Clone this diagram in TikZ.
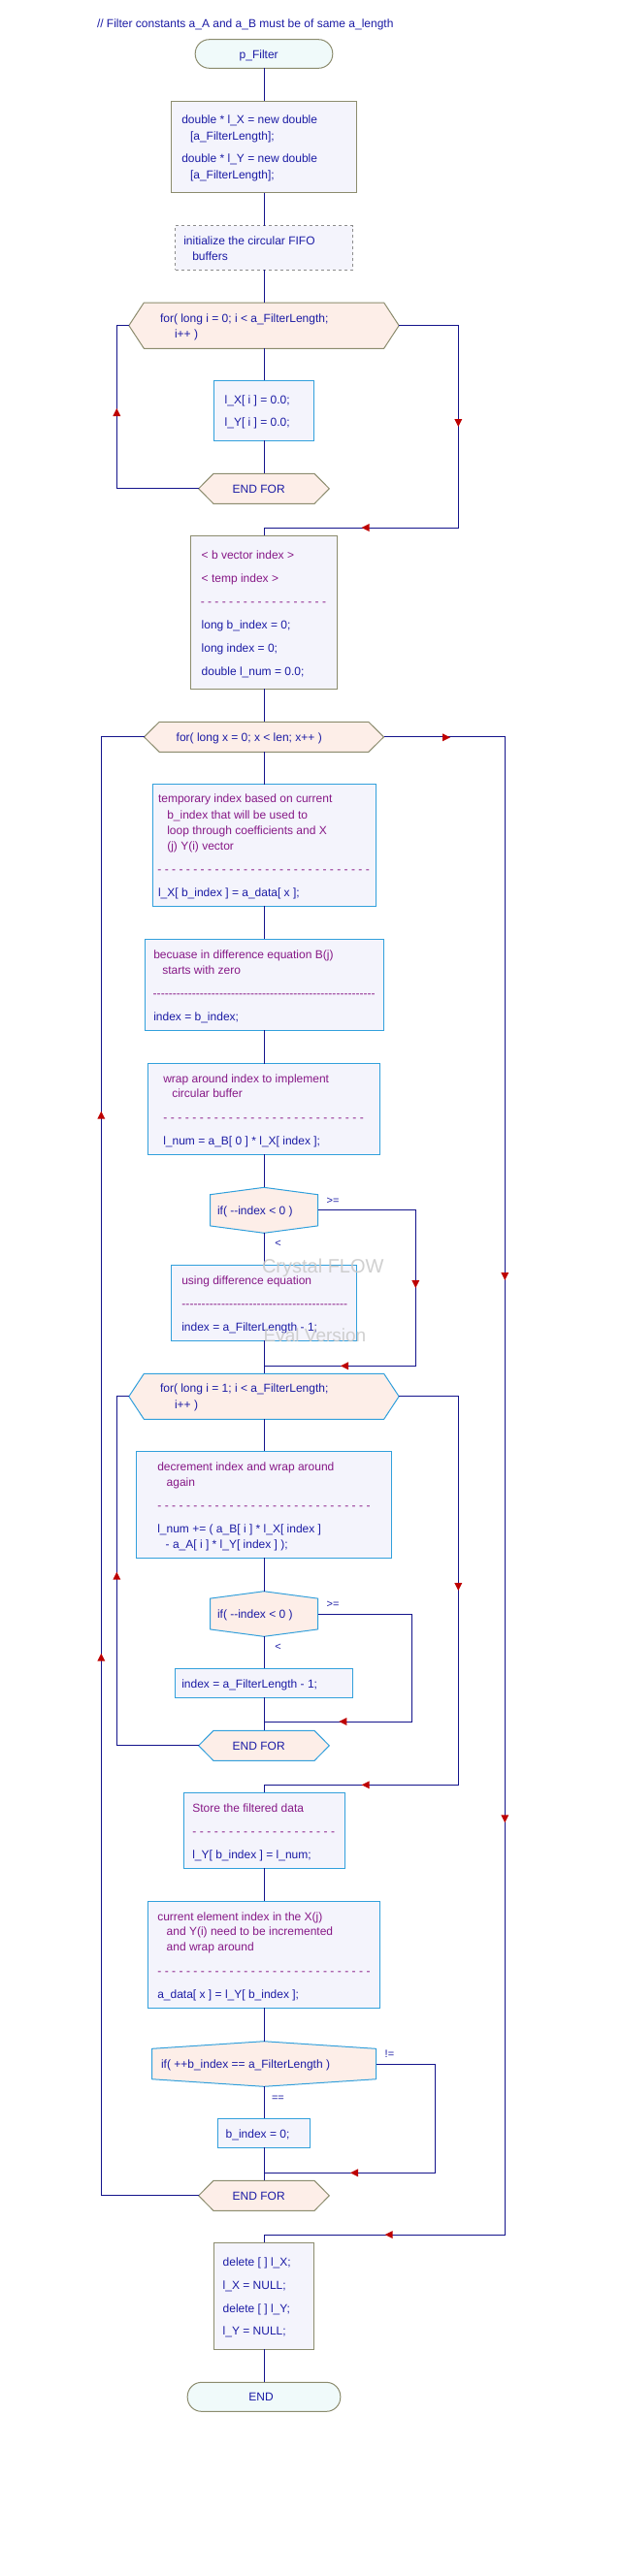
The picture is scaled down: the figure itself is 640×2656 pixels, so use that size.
\documentclass[tikz,border=0pt]{standalone}
\usepackage{fontspec}
\setmainfont{Liberation Sans}
\usetikzlibrary{calc}
\definecolor{lineblue}{RGB}{20,20,140}
\definecolor{codeblue}{RGB}{28,28,165}
\definecolor{cmtpurple}{RGB}{135,25,135}
\definecolor{boxfill}{RGB}{244,244,252}
\definecolor{hexfill}{RGB}{253,238,232}
\definecolor{termfill}{RGB}{240,250,250}
\definecolor{olivec}{RGB}{140,140,110}
\definecolor{lbluec}{RGB}{50,160,220}
\definecolor{dgrayc}{RGB}{140,140,140}
\definecolor{tipred}{RGB}{190,0,0}
\definecolor{wmgray}{RGB}{200,200,200}
\tikzset{
  conn/.style={draw=lineblue, line width=1pt},
  boxo/.style={draw=olivec, line width=1pt, fill=boxfill, inner sep=0pt, outer sep=0pt},
  boxb/.style={draw=lbluec, line width=1pt, fill=boxfill, inner sep=0pt, outer sep=0pt},
  boxd/.style={draw=dgrayc, dash pattern=on 3pt off 3pt, line width=1pt, fill=boxfill, inner sep=0pt, outer sep=0pt},
  term/.style={draw=olivec, line width=1pt, fill=termfill, rounded corners=14.5pt, inner sep=0pt, outer sep=0pt},
  ghost/.style={draw=none, fill=none, inner sep=0pt, outer sep=0pt},
  hexo/.style={draw=olivec, fill=hexfill, line width=1pt},
  hexb/.style={draw=lbluec, fill=hexfill, line width=1pt},
  tb/.style={anchor=west, inner sep=0pt, outer sep=0pt, text height=9pt, text depth=0pt, text=codeblue, font=\fontsize{12pt}{14pt}\selectfont},
  tbc/.style={tb, anchor=center},
  tpu/.style={tb, text=cmtpurple},
  lab/.style={anchor=west, inner sep=0pt, outer sep=0pt, text height=8pt, text depth=0pt, text=codeblue, font=\fontsize{11pt}{13pt}\selectfont},
  wmk/.style={anchor=west, inner sep=0pt, outer sep=0pt, text depth=0pt, text=wmgray, opacity=0.85}
}
\newcommand\mkbox[6]{%
  \pgfmathsetmacro\mbh{#6-#5}%
  \pgfmathsetmacro\mby{(#5+#6)/2}%
  \node[#1, minimum width=#4pt, minimum height=\mbh pt] (#2) at (#3,\mby) {};}
\newcommand\mkhex[7]{%
  \mkbox{ghost}{#2}{#3}{#4}{#5}{#6}%
  \filldraw[#1] (#2.west) -- ([xshift=#7pt]#2.north west) -- ([xshift=-#7pt]#2.north east) -- (#2.east) -- ([xshift=-#7pt]#2.south east) -- ([xshift=#7pt]#2.south west) -- cycle;}
\newcommand\mkif[7]{%
  \mkbox{ghost}{#2}{#3}{#4}{#5}{#6}%
  \filldraw[#1] (#2.north) -- ([yshift=-#7pt]#2.north east) -- ([yshift=#7pt]#2.south east) -- (#2.south) -- ([yshift=#7pt]#2.south west) -- ([yshift=-#7pt]#2.north west) -- cycle;}
\newcommand\ctext[4]{\node[tb] (#1) at (#2,#3) {#4};}
\newcommand\ptext[4]{\node[tpu] (#1) at (#2,#3) {#4};}
\newcommand\dashsp[4]{\node[tpu] (#1) at (#2,#4) {\hbox to \dimexpr #3pt-#2pt\relax{\xleaders\hbox{-\kern3.33pt}\hfill}};}
\newcommand\dashct[4]{\node[tpu] (#1) at (#2,#4) {\hbox to \dimexpr #3pt-#2pt\relax{\xleaders\hbox{-}\hfill}};}
\newcommand\tipL[2]{\fill[tipred] (#1,#2) -- ++(8,-4) -- ++(0,8) -- cycle;}
\newcommand\tipR[2]{\fill[tipred] (#1,#2) -- ++(-8,-4) -- ++(0,8) -- cycle;}
\newcommand\tipU[2]{\fill[tipred] (#1,#2) -- ++(-4,8) -- ++(8,0) -- cycle;}
\newcommand\tipD[2]{\fill[tipred] (#1,#2) -- ++(-4,-8) -- ++(8,0) -- cycle;}
\begin{document}
\begin{tikzpicture}[x=1pt,y=-1pt]
\useasboundingbox (0,0) rectangle (640,2656);
\fill[white] (0,0) rectangle (640,2656);
% shapes
\mkbox{term}{pf}{272}{141.6}{40.7}{70.3}
\mkbox{boxo}{b1}{272}{190.4}{104.3}{198.7}
\mkbox{boxd}{init}{272}{183}{232.7}{278}
\mkhex{hexo}{for1}{272}{278.3}{312}{359.3}{15.5}
\mkbox{boxb}{lx}{272}{102.4}{392.3}{454.3}
\mkhex{hexo}{ef1}{272}{134.6}{488.3}{519.3}{15.3}
\mkbox{boxo}{decl}{272}{150.4}{552.3}{710.3}
\mkhex{hexo}{forx}{272}{247}{744.3}{775.3}{15.7}
\mkbox{boxb}{tmp}{272}{230}{808.7}{934.3}
\mkbox{boxb}{bec}{272}{246}{968.3}{1062}
\mkbox{boxb}{wrp}{272}{238.4}{1096.7}{1190.3}
\mkif{hexb}{if1}{272}{111}{1224.3}{1271.3}{7.4}
\mkbox{boxb}{use}{272}{190.4}{1304.3}{1382.3}
\mkhex{hexb}{for2}{272}{278.3}{1416.3}{1463.3}{15.5}
\mkbox{boxb}{dec}{272}{262.4}{1496.3}{1606.3}
\mkif{hexb}{if2}{272}{111}{1640.7}{1687.3}{7.4}
\mkbox{boxb}{idx}{272}{182.4}{1720.3}{1750.3}
\mkhex{hexb}{ef2}{272}{134.6}{1784.3}{1815.3}{15.3}
\mkbox{boxb}{sto}{272}{166}{1848.3}{1926.3}
\mkbox{boxb}{cur}{272}{238.4}{1960.3}{2070}
\mkif{hexb}{if3}{272}{231}{2104.7}{2151.3}{7.6}
\mkbox{boxb}{bix}{272}{94.4}{2184.3}{2214}
\mkhex{hexo}{ef3}{272}{134.6}{2248.3}{2279.3}{15.3}
\mkbox{boxo}{del}{272}{102.4}{2312.3}{2422.3}
\mkbox{term}{endt}{272}{157.6}{2456.3}{2486.3}
% merge points
\coordinate (m1) at (272,544);
\coordinate (m2) at (272,1408.3);
\coordinate (m3) at (272,1775);
\coordinate (m4) at (272,1840.3);
\coordinate (m5) at (272,2240.3);
\coordinate (m6) at (272,2304);
% connectors
\draw[conn] (pf.south) -- (b1.north);
\draw[conn] (b1.south) -- (init.north);
\draw[conn] (init.south) -- (for1.north);
\draw[conn] (for1.south) -- (lx.north);
\draw[conn] (lx.south) -- (ef1.north);
\draw[conn] (ef1.west) -- ++(-84.4,0) |- (for1.west);
\draw[conn] (for1.east) -- ++(61.15,0) |- (m1) -- (decl.north);
\draw[conn] (decl.south) -- (forx.north);
\draw[conn] (forx.south) -- (tmp.north);
\draw[conn] (tmp.south) -- (bec.north);
\draw[conn] (bec.south) -- (wrp.north);
\draw[conn] (wrp.south) -- (if1.north);
\draw[conn] (if1.south) -- (use.north);
\draw[conn] (use.south) -- (for2.north);
\draw[conn] (if1.east) -- ++(100.8,0) |- (m2);
\draw[conn] (for2.south) -- (dec.north);
\draw[conn] (dec.south) -- (if2.north);
\draw[conn] (if2.south) -- (idx.north);
\draw[conn] (idx.south) -- (ef2.north);
\draw[conn] (if2.east) -- ++(96.8,0) |- (m3);
\draw[conn] (ef2.west) -- ++(-84.4,0) |- (for2.west);
\draw[conn] (for2.east) -- ++(61.15,0) |- (m4) -- (sto.north);
\draw[conn] (sto.south) -- (cur.north);
\draw[conn] (cur.south) -- (if3.north);
\draw[conn] (if3.south) -- (bix.north);
\draw[conn] (bix.south) -- (ef3.north);
\draw[conn] (if3.east) -- ++(60.8,0) |- (m5);
\draw[conn] (ef3.west) -- ++(-100.4,0) |- (forx.west);
\draw[conn] (forx.east) -- ++(124.8,0) |- (m6) -- (del.north);
\draw[conn] (del.south) -- (endt.north);
% arrow tips
\tipU{120.3}{421}
\tipD{472.3}{440}
\tipL{372.7}{544}
\tipR{464}{760.3}
\tipU{104.3}{1145.7}
\tipD{428.3}{1328}
\tipD{520.3}{1320}
\tipL{351}{1408.3}
\tipU{120.3}{1620.7}
\tipD{472.3}{1640}
\tipU{104.3}{1704.7}
\tipL{349.3}{1775}
\tipL{372.7}{1840.3}
\tipD{520.3}{1879.3}
\tipL{361}{2240.3}
\tipL{396.7}{2304}
% texts
\ctext{c0}{100}{24}{// Filter constants a\_A and a\_B must be of same a\_length}
\node[tbc] (tpf) at (266.7,55.5) {p\_Filter};
\ctext{t1a}{187.3}{123.3}{double * l\_X = new double}
\ctext{t1b}{196}{140}{[a\_FilterLength];}
\ctext{t1c}{187.3}{163.3}{double * l\_Y = new double}
\ctext{t1d}{196}{180}{[a\_FilterLength];}
\ctext{t2a}{189.3}{247.7}{initialize the circular FIFO}
\ctext{t2b}{198.3}{263.7}{buffers}
\ctext{t3a}{165}{328}{for( long i = 0; i < a\_FilterLength;}
\ctext{t3b}{180}{343.7}{i++ )}
\ctext{t4a}{231.7}{412}{l\_X[ i ] = 0.0;}
\ctext{t4b}{231.7}{435.3}{l\_Y[ i ] = 0.0;}
\node[tbc] (t5) at (266.7,504) {END FOR};
\ptext{t6a}{207.7}{571.7}{< b vector index >}
\ptext{t6b}{207.7}{595.7}{< temp index >}
\dashsp{t6c}{206.7}{339.5}{619.7}
\ctext{t6d}{207.7}{644}{long b\_index = 0;}
\ctext{t6e}{207.7}{668}{long index = 0;}
\ctext{t6f}{207.7}{691.7}{double l\_num = 0.0;}
\ctext{t7}{181.7}{760.3}{for( long x = 0; x < len; x++ )}
\ptext{t8a}{163}{823.3}{temporary index based on current}
\ptext{t8b}{172.3}{839.7}{b\_index that will be used to}
\ptext{t8c}{172.3}{855.7}{loop through coefficients and X}
\ptext{t8d}{172.3}{871.7}{(j) Y(i) vector}
\dashsp{t8e}{162.3}{384.3}{896.3}
\ctext{t8f}{163}{919.7}{l\_X[ b\_index ] = a\_data[ x ];}
\ptext{t9a}{158.3}{984}{becuase in difference equation B(j)}
\ptext{t9b}{167.3}{999.7}{starts with zero}
\dashct{t9c}{157.7}{386.7}{1024}
\ctext{t9d}{158.3}{1048}{index = b\_index;}
\ptext{t10a}{168.3}{1111.7}{wrap around index to implement}
\ptext{t10b}{177.3}{1127.3}{circular buffer}
\dashsp{t10c}{168.3}{378.3}{1152.3}
\ctext{t10d}{168.3}{1175.7}{l\_num = a\_B[ 0 ] * l\_X[ index ];}
\ctext{t11}{224}{1248}{if( -{}-index < 0 )}
\node[lab] (t11a) at (336.7,1237.3) {>=};
\node[lab] (t11b) at (283.3,1281.7) {<};
\ptext{t12a}{187.3}{1320}{using difference equation}
\dashct{t12b}{187.3}{358.3}{1344.3}
\ctext{t12c}{187.3}{1367.7}{index = a\_FilterLength - 1;}
\ctext{t13a}{165}{1431.3}{for( long i = 1; i < a\_FilterLength;}
\ctext{t13b}{180}{1448}{i++ )}
\ptext{t14a}{162.3}{1511.7}{decrement index and wrap around}
\ptext{t14b}{171.7}{1527.7}{again}
\dashsp{t14c}{162.3}{385}{1552}
\ctext{t14d}{162.3}{1576}{l\_num += ( a\_B[ i ] * l\_X[ index ]}
\ctext{t14e}{170.7}{1591.7}{- a\_A[ i ] * l\_Y[ index ] );}
\ctext{t15}{224}{1664}{if( -{}-index < 0 )}
\node[lab] (t15a) at (336.7,1653.3) {>=};
\node[lab] (t15b) at (283.3,1697.3) {<};
\ctext{t16}{187.3}{1735.7}{index = a\_FilterLength - 1;}
\node[tbc] (t17) at (266.7,1799.7) {END FOR};
\ptext{t18a}{198.3}{1863.7}{Store the filtered data}
\dashsp{t18b}{198.3}{348.6}{1887.7}
\ctext{t18c}{198.3}{1911.7}{l\_Y[ b\_index ] = l\_num;}
\ptext{t19a}{162.3}{1976}{current element index in the X(j)}
\ptext{t19b}{171.7}{1991.3}{and Y(i) need to be incremented}
\ptext{t19c}{171.7}{2007.3}{and wrap around}
\dashsp{t19d}{162.3}{385}{2032.3}
\ctext{t19e}{162.3}{2056}{a\_data[ x ] = l\_Y[ b\_index ];}
\ctext{t20}{166}{2128}{if( ++b\_index == a\_FilterLength )}
\node[lab] (t20a) at (396.7,2117.3) {!=};
\node[lab] (t20b) at (280,2162) {==};
\ctext{t21}{232.7}{2199.7}{b\_index = 0;}
\node[tbc] (t22) at (266.7,2264) {END FOR};
\ctext{t23a}{229.7}{2331.7}{delete [ ] l\_X;}
\ctext{t23b}{229.7}{2355.7}{l\_X = NULL;}
\ctext{t23c}{229.7}{2379.7}{delete [ ] l\_Y;}
\ctext{t23d}{229.7}{2403.3}{l\_Y = NULL;}
\node[tbc] (t24) at (269,2471.3) {END};
% watermark
\node[wmk, text height=14.4pt, font=\fontsize{20pt}{24pt}\selectfont] (wm1) at (270,1305) {Crystal FLOW};
\node[wmk, text height=13.7pt, font=\fontsize{19pt}{23pt}\selectfont] (wm2) at (271.7,1376.3) {Eval Version};
\end{tikzpicture}
\end{document}
